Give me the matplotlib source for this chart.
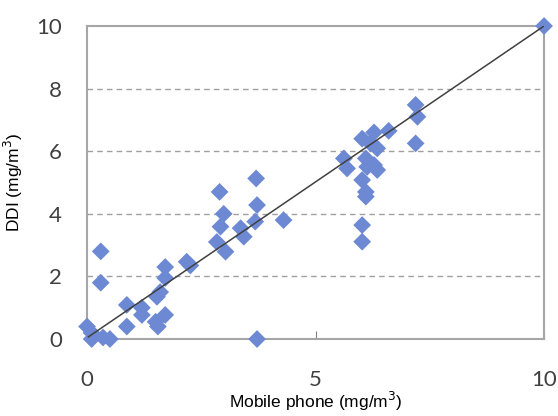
import numpy as np
import matplotlib.pyplot as plt

# mobile phone vs DDI concentrations (mg/m3)
phone = [0.0, 0.1, 0.1, 0.35, 0.5, 0.3, 0.3, 0.87, 0.87, 1.2, 1.2, 1.53, 1.5, 1.55,
         1.71, 1.71, 1.71, 1.6, 2.18, 2.26,
         2.9, 2.99, 2.92, 2.84, 3.03, 3.36, 3.43, 3.7, 3.72, 3.68, 3.72, 4.3,
         5.62, 5.69, 6.02, 6.1, 6.13, 6.28, 6.2, 6.35, 6.35, 6.28, 6.6, 6.02, 6.1, 6.1,
         6.02, 6.02, 7.19, 7.23, 7.19, 10.0]
ddi = [0.4, 0.2, 0.0, 0.05, 0.0, 2.8, 1.8, 1.09, 0.4, 1.0, 0.77, 1.35, 0.55, 0.4,
       0.77, 2.3, 1.95, 1.5, 2.47, 2.35,
       4.7, 4.0, 3.59, 3.1, 2.79, 3.54, 3.27, 5.13, 4.28, 3.75, 0.0, 3.8,
       5.77, 5.45, 6.4, 5.77, 5.5, 5.56, 6.25, 6.09, 5.4, 6.6, 6.65, 5.08, 4.7, 4.55,
       3.64, 3.11, 7.48, 7.1, 6.25, 10.0]

line_x = [0.03, 10.0]
line_y = [0.07, 10.0]

fig = plt.figure(figsize=(5.58, 4.16), dpi=100)
ax = fig.add_axes([0.156, 0.185, 0.819, 0.7525])

ax.plot(line_x, line_y, color='#404040', lw=1.1, zorder=4)
ax.scatter(phone, ddi, marker='D', s=82, color='#6d89d3', edgecolors='none',
           zorder=3, clip_on=False)

ax.set_xlim(0, 10)
ax.set_ylim(0, 10)
ax.set_xticks([0, 5, 10])
ax.set_yticks([0, 2, 4, 6, 8, 10])

for y in [2, 4, 6, 8]:
    ax.axhline(y, color='#a0a0a0', lw=1, ls=(0, (4, 3)), zorder=1)

for s in ax.spines.values():
    s.set_color('#a6a6a6')
    s.set_linewidth(1.5)
    s.set_zorder(2)

ax.tick_params(axis='x', direction='in', length=6, color='#808080', pad=22,
               labelsize=16)
ax.tick_params(axis='y', length=0, pad=18, labelsize=16)
for lab in ax.get_xticklabels() + ax.get_yticklabels():
    lab.set_family(['Lato', 'DejaVu Sans'])
    lab.set_color('#404040')

ax.set_xlabel('Mobile phone (mg/m$^3$)', fontsize=12.5, family='Liberation Sans', labelpad=0)
ax.set_ylabel('DDI (mg/m$^3$)', fontsize=12.5, family='Liberation Sans', labelpad=8)

fig.savefig('out.png', dpi=100)
